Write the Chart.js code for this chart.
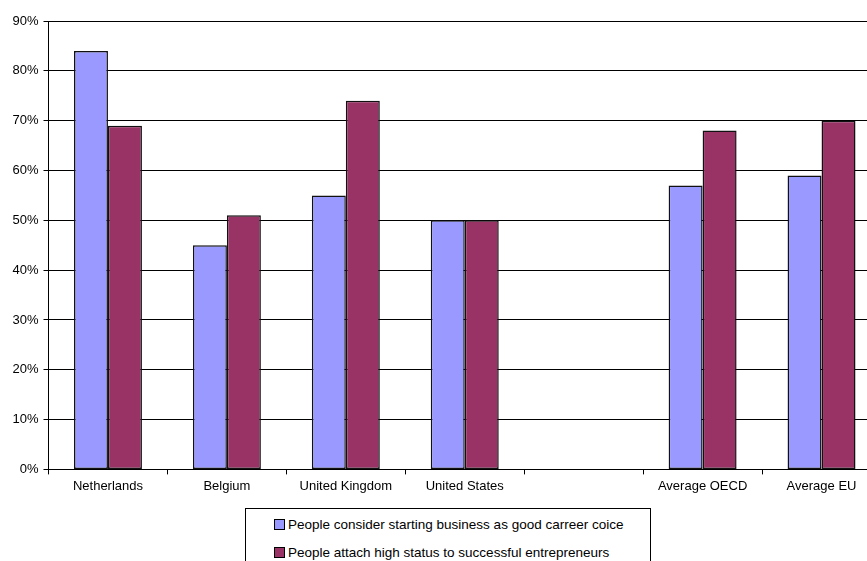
<!DOCTYPE html>
<html>
<head>
<meta charset="utf-8">
<script src="https://cdn.jsdelivr.net/npm/chart.js@4/dist/chart.umd.min.js"></script>
<style>
  html, body { margin: 0; padding: 0; background: #fff; overflow: hidden; }
  #wrap { position: relative; width: 867px; height: 561px; overflow: hidden; }
  #box { position: absolute; left: 0; top: 0; width: 881px; height: 498px; }
  #legend {
    position: absolute; left: 245px; top: 508px; width: 404px; height: 80px;
    border: 1px solid #000; background: #fff;
    font-family: "Liberation Sans", Arial, sans-serif; font-size: 13.5px; color: #000;
  }
  .item { position: absolute; left: 28px; height: 16px; line-height: 16px; white-space: nowrap; }
  .sw { display: inline-block; width: 9px; height: 9px; border: 1px solid #000; margin-right: 3px; vertical-align: -1px; }
</style>
</head>
<body>
<div id="wrap">
  <div id="box"><canvas id="chart"></canvas></div>
  <div id="legend"></div>
</div>
<script>
const categories = ['Netherlands', 'Belgium', 'United Kingdom', 'United States', '', 'Average OECD', 'Average EU'];
const careerChoice = [84, 45, 55, 50, null, 57, 59];
const highStatus = [69, 51, 74, 50, null, 68, 70];
const seriesNames = [
  'People consider starting business as good carreer coice',
  'People attach high status to successful entrepreneurs'
];
const seriesColors = ['#9999FF', '#993366'];

const font = { family: '"Liberation Sans", Arial, sans-serif', size: 13 };

const chart = new Chart(document.getElementById('chart'), {
  type: 'bar',
  data: {
    labels: categories,
    datasets: [
      { label: seriesNames[0], data: careerChoice, backgroundColor: seriesColors[0], borderColor: '#111', borderWidth: 1.5, borderSkipped: false },
      { label: seriesNames[1], data: highStatus, backgroundColor: seriesColors[1], borderColor: '#111', borderWidth: 1.5, borderSkipped: false }
    ]
  },
  options: {
    responsive: true,
    maintainAspectRatio: false,
    animation: false,
    layout: { padding: { top: 21, left: 0.5, right: -0.5, bottom: 0 } },
    categoryPercentage: 68 / 119,
    barPercentage: 1,
    plugins: { legend: { display: false }, tooltip: { enabled: false } },
    scales: {
      x: {
        offset: true,
        grid: { offset: true, drawOnChartArea: false, color: '#000', tickLength: 5, lineWidth: 1 },
        border: { color: '#000', width: 1 },
        ticks: { font: font, color: '#000', padding: 4, maxRotation: 0, autoSkip: false }
      },
      y: {
        min: 0, max: 90,
        afterFit: (s) => { s.width = 48; },
        grid: { color: '#000', tickLength: 5, lineWidth: 1 },
        border: { color: '#000', width: 1 },
        ticks: { stepSize: 10, font: font, color: '#000', padding: 5, callback: (v) => v + '%' }
      }
    }
  }
});

// legend box below the plot
const legend = document.getElementById('legend');
seriesNames.forEach((name, i) => {
  const item = document.createElement('div');
  item.className = 'item';
  item.style.top = (8 + i * 28) + 'px';
  const sw = document.createElement('span');
  sw.className = 'sw';
  sw.style.background = seriesColors[i];
  item.appendChild(sw);
  item.appendChild(document.createTextNode(name));
  legend.appendChild(item);
});
</script>
</body>
</html>
